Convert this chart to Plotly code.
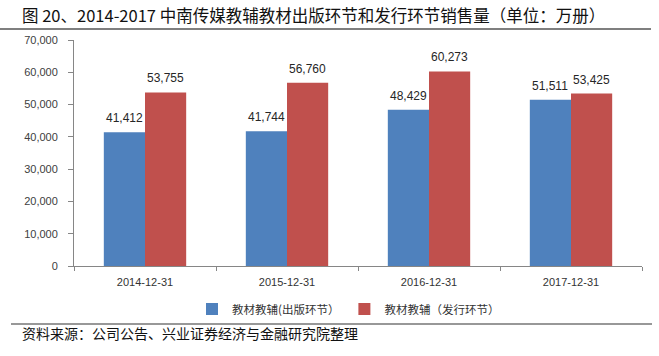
import plotly.graph_objects as go

categories = ["2014-12-31", "2015-12-31", "2016-12-31", "2017-12-31"]
publish_vals = [41412, 41744, 48429, 51511]
distribute_vals = [53755, 56760, 60273, 53425]
series_names = ["教材教辅(出版环节）", "教材教辅（发行环节）"]
y_ticks = [0, 10000, 20000, 30000, 40000, 50000, 60000, 70000]
title_text = "图 20、2014-2017 中南传媒教辅教材出版环节和发行环节销售量（单位：万册）"
source_text = "资料来源：公司公告、兴业证券经济与金融研究院整理"

W, H = 659, 356
L, R, T, B = 74, 17, 40, 90
pw, ph = W - L - R, H - T - B

def px(x):
    return (x - L) / pw

def py(y):
    return (H - B - y) / ph

BLUE = "#4F81BD"
RED = "#C0504D"
AX = "#868686"
TXT = "#404040"
FONT = "Liberation Sans, Arial, sans-serif"
CJK = "Noto Sans CJK SC"

fig = go.Figure()
fig.add_bar(x=categories, y=publish_vals, name=series_names[0], marker_color=BLUE,
            marker_line_width=0)
fig.add_bar(x=categories, y=distribute_vals, name=series_names[1], marker_color=RED,
            marker_line_width=0)

bar_half = 20.6
for vals, sh in ((publish_vals, -bar_half), (distribute_vals, bar_half)):
    for c, v in zip(categories, vals):
        fig.add_annotation(x=c, y=v, xref="x", yref="y", text=f"{v:,}", showarrow=False,
                           xshift=sh, yshift=14, yanchor="middle",
                           font=dict(family=FONT, size=12, color="#262626"))

fig.add_annotation(x=px(20), y=py(15), xref="paper", yref="paper", text=title_text,
                   showarrow=False, xanchor="left", yanchor="middle",
                   font=dict(family=CJK, size=16.5, color="#111111"))
fig.add_annotation(x=px(20), y=py(333), xref="paper", yref="paper", text=source_text,
                   showarrow=False, xanchor="left", yanchor="middle",
                   font=dict(family=CJK, size=14, color="#111111"))
fig.add_shape(type="line", xref="paper", yref="paper", x0=px(0), x1=px(651), y0=py(29), y1=py(29),
              line=dict(color="#555555", width=1.5))
fig.add_shape(type="line", xref="paper", yref="paper", x0=px(11), x1=px(652), y0=py(324), y1=py(324),
              line=dict(color="#333333", width=1.2))

fig.update_layout(
    width=W, height=H,
    margin=dict(l=L, r=R, t=T, b=B, pad=0),
    paper_bgcolor="white", plot_bgcolor="white",
    barmode="group", bargap=0.42, bargroupgap=0,
    showlegend=True,
    legend=dict(orientation="h", x=px(192), y=py(309), xanchor="left", yanchor="middle",
                font=dict(family=CJK, size=11.5, color="#333333"), itemwidth=30,
                traceorder="normal", bgcolor="rgba(0,0,0,0)"),
    xaxis=dict(type="category", showline=True, linecolor=AX, linewidth=1, ticks="outside",
               tickson="boundaries", ticklen=4, tickcolor=AX, showgrid=False,
               ticklabelstandoff=6,
               tickfont=dict(family=FONT, size=11, color="#333333")),
    yaxis=dict(range=[0, 70000], tickvals=y_ticks, tickformat=",", showline=True, linecolor=AX,
               linewidth=1, ticks="outside", ticklen=5, tickcolor=AX, showgrid=False,
               zeroline=False, ticklabelstandoff=8,
               tickfont=dict(family=FONT, size=11, color=TXT)),
)

fig.write_html("out.html", config={"displayModeBar": False},
               post_script="document.body.style.margin='0';")
